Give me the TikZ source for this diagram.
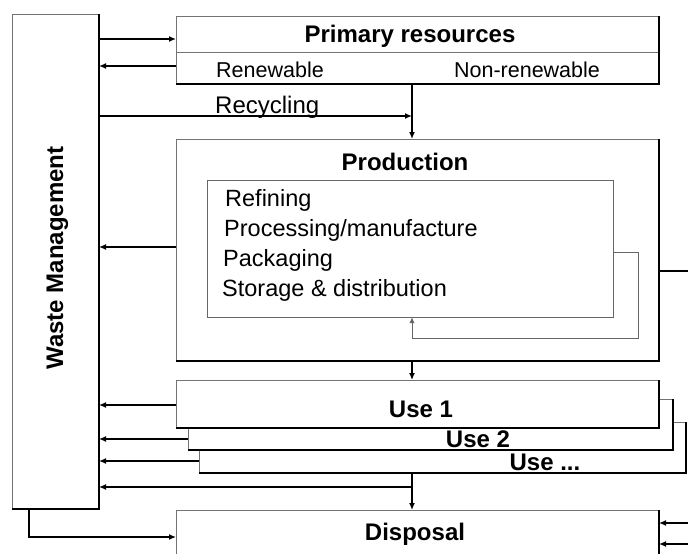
\documentclass[tikz,border=0pt]{standalone}
\usepackage{fontspec}
\setmainfont{Liberation Sans}
\usetikzlibrary{arrows.meta}
\newcommand\shadowedge[1]{\draw[line width=1.6pt] (#1.north east) -- (#1.south east) -- (#1.south west);}
\begin{document}
\begin{tikzpicture}[x=1pt,y=-1pt,
  box/.style={draw=black!55, line width=1pt, fill=white, anchor=north west, inner sep=0pt},
  arr/.style={line width=1.3pt, -{Latex[length=7pt,width=6pt]}},
  garr/.style={draw=black!60, line width=1pt, -{Latex[length=6pt,width=5pt]}},
  ln/.style={line width=1.3pt},
  txt/.style={font=\fontsize{23.5}{28}\selectfont, anchor=base west, inner sep=0pt},
  bigb/.style={font=\fontsize{24}{28}\selectfont\bfseries, anchor=base, inner sep=0pt},
  small/.style={font=\fontsize{21.5}{25}\selectfont, anchor=base, inner sep=0pt},
]
\useasboundingbox (0,0) rectangle (688,554);
\clip (0,0) rectangle (688,554);
\fill[white] (0,0) rectangle (688,554);

% Waste management
\node[box, minimum width=86pt, minimum height=494pt] (wm) at (12,14) {};
\shadowedge{wm}
\node[bigb, rotate=90] (wmt) at (63,258) {Waste Management};

% Primary resources
\node[box, minimum width=482pt, minimum height=67pt] (prim) at (176,16) {};
\draw[black!55, line width=1pt] (prim.west |- 0,52) -- (prim.east |- 0,52);
\shadowedge{prim}
\node[bigb] (primt) at (410,42) {Primary resources};
\node[small] (ren) at (270,77) {Renewable};
\node[small] (nren) at (527,77) {Non-renewable};

% Production
\node[box, minimum width=482pt, minimum height=221pt] (prod) at (176,139) {};
\shadowedge{prod}
\node[bigb] (prodt) at (405,170) {Production};
\node[box, draw=black!60, minimum width=406pt, minimum height=137pt] (inner) at (207,180) {};
\node[txt] (t1) at (225,206) {Refining};
\node[txt] (t2) at (224,236.5) {Processing/manufacture};
\node[txt] (t3) at (223,266.5) {Packaging};
\node[txt] (t4) at (222,296) {Storage \& distribution};
\coordinate (fbA) at (638,252);
\coordinate (fbB) at (638,338);
\draw[garr] (inner.east |- fbA) -- (fbA) -- (fbB) -- (412,338) -- (412,317);

% Uses
\node[box, minimum width=486pt, minimum height=50pt] (use3) at (199,422) {};
\shadowedge{use3}
\node[box, minimum width=484pt, minimum height=50pt] (use2) at (188,399) {};
\shadowedge{use2}
\node[box, minimum width=482pt, minimum height=47pt] (use1) at (176,380) {};
\shadowedge{use1}
\node[bigb] (u1t) at (421,417) {Use 1};
\node[bigb] (u2t) at (478,447) {Use 2};
\node[bigb] (u3t) at (545,470) {Use ...};

% Disposal
\node[box, minimum width=482pt, minimum height=70pt] (disp) at (176,510) {};
\draw[line width=1.6pt] (disp.north east) -- (disp.south east);
\node[bigb] (dispt) at (415,540) {Disposal};

% Connectors
\draw[arr] (wm.east |- 0,39) -- (prim.west |- 0,39);
\draw[arr] (prim.west |- 0,66) -- (wm.east |- 0,66);
\coordinate (rj) at (412,116);
\draw[arr] (wm.east |- rj) -- (rj);
\node[txt, font=\fontsize{24}{28}\selectfont] (rec) at (215,113) {Recycling};
\draw[arr] (prim.south -| rj) -- (prod.north -| rj);
\draw[arr] (prod.west |- 0,247) -- (wm.east |- 0,247);
\coordinate (pe) at (688,271);
\draw[ln] (prod.east |- pe) -- (pe);
\draw[arr] (prod.south -| rj) -- (use1.north -| rj);
\draw[arr] (use1.west |- 0,405) -- (wm.east |- 0,405);
\draw[arr] (use2.west |- 0,439) -- (wm.east |- 0,439);
\draw[arr] (use3.west |- 0,461) -- (wm.east |- 0,461);
\draw[arr] (use3.south -| rj) -- (disp.north -| rj);
\coordinate (dj) at (412,487);
\draw[arr] (dj) -- (wm.east |- dj);
\coordinate (wb) at (29,537);
\draw[arr] (wm.south -| wb) -- (wb) -- (disp.west |- wb);
\coordinate (r1) at (688,523);
\coordinate (r2) at (688,544);
\draw[arr] (r1) -- (disp.east |- r1);
\draw[arr] (r2) -- (disp.east |- r2);
\end{tikzpicture}
\end{document}
